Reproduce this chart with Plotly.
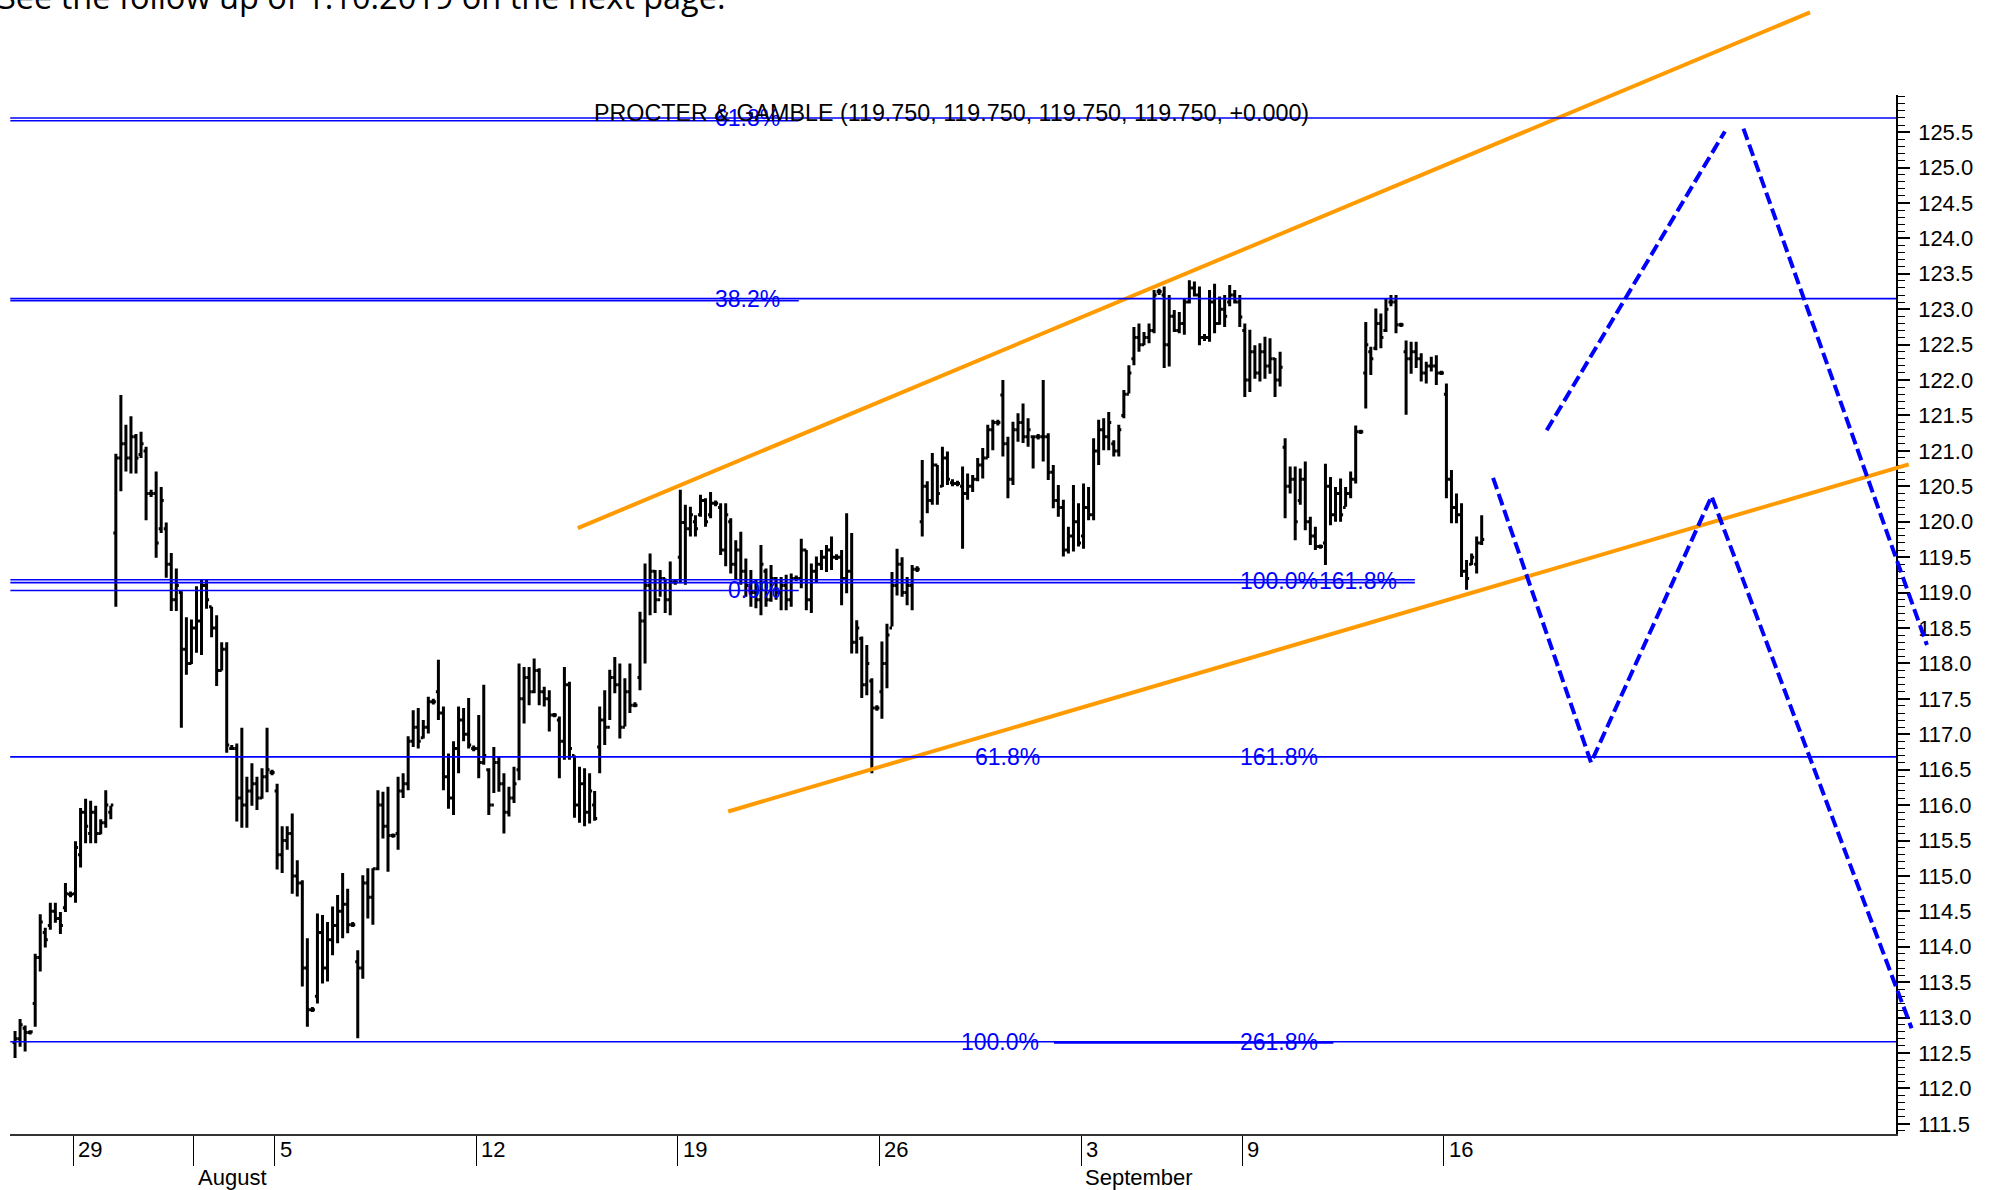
import plotly.graph_objects as go

# ---------------- data ----------------
# trading-day index: 0 = 25 Jul 2019 ... 36 = 16 Sep 2019 (8 bars per day)
day_tick_pos = [2, 5, 7, 12, 17, 22, 27, 31, 36]
day_tick_text = ["29", "", "5", "12", "19", "26", "3", "9", "16"]
month_tick_pos = [5, 27]
month_tick_text = ["August", "September"]

y_tick_text = ["111.5", "112.0", "112.5", "113.0", "113.5", "114.0", "114.5", "115.0",
               "115.5", "116.0", "116.5", "117.0", "117.5", "118.0", "118.5", "119.0",
               "119.5", "120.0", "120.5", "121.0", "121.5", "122.0", "122.5", "123.0",
               "123.5", "124.0", "124.5", "125.0", "125.5"]

opens = [
    112.65, 112.70, 112.85, 112.79,
    113.20, 113.85, 114.20, 114.30, 114.50, 114.40, 114.55, 114.74,
    114.75, 115.30, 115.90, 115.60, 115.90, 115.60, 115.75, 115.90,
    119.84, 120.90, 121.10, 120.90, 121.20, 120.95, 121.00, 120.40,
    120.40, 119.90, 119.90, 119.40, 118.90, 119.00, 118.20, 118.00,
    118.50, 118.60, 119.10, 118.80, 118.50, 117.90, 118.20, 116.80,
    116.80, 116.10, 116.00, 116.20, 116.30, 116.10, 116.40, 116.46,
    116.20, 115.30, 115.50, 115.60, 115.00, 114.90, 113.70, 113.11,
    113.30, 114.20, 113.70, 114.10, 114.30, 114.50, 114.60, 114.31,
    113.79, 113.70, 114.90, 114.70, 115.10, 116.00, 115.70, 115.57,
    115.60, 116.20, 116.30, 116.90, 117.10, 116.95, 117.10, 117.46,
    117.60, 117.30, 116.40, 116.10, 116.80, 117.20, 117.00, 116.80,
    116.80, 116.60, 116.50, 116.00, 116.60, 116.30, 115.90, 116.10,
    116.50, 117.50, 117.80, 117.60, 117.90, 117.60, 117.50, 117.27,
    117.20, 116.90, 117.70, 116.70, 116.00, 116.30, 115.90, 116.00,
    116.82, 117.20, 117.10, 117.80, 117.70, 117.10, 117.60, 117.41,
    117.80, 118.60, 119.10, 119.30, 118.90, 119.20, 118.90, 119.15,
    119.50, 119.99, 119.90, 120.00, 120.10, 120.30, 120.10, 120.26,
    120.20, 119.60, 120.00, 119.40, 119.60, 119.30, 119.10, 119.00,
    118.90, 119.30, 118.90, 119.20, 119.00, 119.10, 118.90, 119.20,
    119.20, 119.60, 118.90, 119.30, 119.40, 119.50, 119.60, 119.50,
    119.50, 119.20, 119.30, 118.30, 118.35, 117.70, 117.75, 117.37,
    117.60, 118.00, 118.50, 119.10, 119.40, 119.00, 119.10, 119.33,
    120.00, 120.50, 120.30, 120.80, 120.50, 120.90, 120.55, 120.54,
    120.50, 120.40, 120.50, 120.60, 120.80, 120.90, 121.30, 121.40,
    121.79, 121.10, 120.60, 121.30, 121.40, 121.20, 121.20, 121.20,
    121.20, 121.20, 120.70, 120.30, 120.20, 119.60, 119.80, 120.00,
    119.80, 120.20, 120.10, 121.00, 121.30, 121.20, 121.10, 121.00,
    121.50, 121.80, 122.30, 122.60, 122.50, 122.60, 122.70, 123.25,
    123.20, 122.50, 122.90, 122.70, 122.80, 123.10, 123.30, 123.20,
    122.60, 122.60, 123.10, 122.80, 123.00, 123.10, 123.20, 123.10,
    122.70, 122.00, 122.40, 122.10, 122.40, 122.20, 122.30, 122.00,
    121.05, 120.50, 120.60, 120.30, 120.60, 120.00, 119.80, 119.65,
    119.70, 120.50, 120.10, 120.40, 120.20, 120.40, 120.60, 121.27,
    122.10, 122.40, 122.45, 122.80, 122.70, 123.10, 123.10, 122.78,
    122.40, 122.30, 122.40, 122.30, 122.10, 122.20, 122.20, 122.10,
    121.80, 120.60, 120.20, 120.10, 119.30, 119.40, 119.40, 119.70,
]
highs = [
    112.81, 112.98, 112.89, 112.82,
    113.90, 114.46, 114.27, 114.62, 114.62, 114.49, 114.90, 114.78,
    115.49, 115.96, 116.09, 116.06, 115.99, 115.80, 116.21, 115.99,
    120.96, 121.79, 121.37, 121.49, 121.24, 121.27, 121.06, 120.45,
    120.71, 120.49, 119.99, 119.56, 119.34, 119.02, 118.65, 118.62,
    119.09, 119.18, 119.18, 118.80, 118.68, 118.30, 118.30, 116.85,
    116.87, 117.09, 116.40, 116.59, 116.40, 116.52, 117.09, 116.50,
    116.30, 115.70, 115.70, 115.88, 115.22, 114.94, 114.12, 113.15,
    114.47, 114.45, 114.35, 114.57, 114.73, 115.04, 114.82, 114.35,
    113.95, 115.01, 115.11, 115.11, 116.21, 116.19, 116.26, 115.60,
    116.40, 116.45, 116.97, 117.34, 117.37, 117.20, 117.53, 117.50,
    118.05, 117.39, 116.73, 116.90, 117.39, 117.37, 117.51, 116.84,
    117.27, 117.70, 116.52, 116.82, 116.68, 116.45, 116.26, 116.54,
    118.00, 117.95, 117.95, 118.07, 117.93, 117.67, 117.62, 117.30,
    117.25, 117.95, 117.74, 116.70, 116.54, 116.52, 116.45, 116.20,
    117.39, 117.62, 117.91, 118.09, 118.00, 117.79, 118.00, 117.45,
    118.73, 119.41, 119.55, 119.32, 119.32, 119.20, 119.44, 119.19,
    120.45, 120.24, 120.21, 120.09, 120.38, 120.33, 120.42, 120.30,
    120.26, 120.26, 120.05, 119.74, 119.86, 119.48, 119.32, 119.18,
    119.67, 119.34, 119.39, 119.22, 119.22, 119.25, 119.27, 119.24,
    119.76, 119.60, 119.41, 119.51, 119.60, 119.67, 119.79, 119.54,
    119.60, 120.12, 119.84, 118.61, 118.38, 118.26, 117.79, 117.41,
    118.31, 118.56, 119.29, 119.62, 119.50, 119.22, 119.39, 119.37,
    120.87, 120.57, 120.97, 120.80, 121.06, 120.99, 120.60, 120.58,
    120.78, 120.68, 120.66, 120.90, 121.04, 121.37, 121.44, 121.44,
    122.00, 121.20, 121.41, 121.53, 121.67, 121.46, 121.20, 121.24,
    122.00, 121.25, 120.80, 120.52, 120.31, 119.93, 120.52, 120.26,
    120.54, 120.49, 121.18, 121.44, 121.46, 121.55, 121.15, 121.37,
    121.86, 122.21, 122.75, 122.80, 122.68, 122.80, 123.27, 123.29,
    123.32, 123.20, 122.99, 122.96, 123.15, 123.41, 123.39, 123.32,
    122.65, 123.27, 123.36, 123.18, 123.20, 123.34, 123.27, 123.20,
    122.80, 122.71, 122.49, 122.52, 122.61, 122.59, 122.31, 122.40,
    121.18, 120.78, 120.78, 120.75, 120.85, 120.07, 119.93, 119.68,
    120.82, 120.63, 120.49, 120.61, 120.49, 120.71, 121.36, 121.30,
    122.82, 122.47, 123.01, 122.94, 123.15, 123.20, 123.20, 122.81,
    122.56, 122.54, 122.54, 122.38, 122.26, 122.33, 122.35, 122.13,
    121.95, 120.73, 120.40, 120.26, 119.46, 119.55, 119.79, 120.09,
]
lows = [
    112.43, 112.59, 112.52, 112.76,
    112.87, 113.65, 113.99, 114.24, 114.34, 114.18, 114.49, 114.70,
    114.62, 115.12, 115.46, 115.46, 115.46, 115.59, 115.68, 115.80,
    118.80, 120.43, 120.71, 120.68, 120.68, 120.90, 120.02, 120.35,
    119.49, 119.84, 119.21, 118.74, 118.74, 117.09, 117.84, 117.99,
    118.15, 118.12, 118.77, 118.37, 117.68, 117.90, 116.74, 116.78,
    115.77, 115.68, 115.68, 115.99, 115.93, 116.09, 116.18, 116.42,
    115.09, 115.04, 115.37, 114.75, 114.71, 113.44, 112.87, 113.08,
    113.20, 113.48, 113.51, 113.88, 114.05, 114.12, 114.19, 114.28,
    112.71, 113.55, 114.40, 114.31, 115.08, 115.53, 115.06, 115.54,
    115.37, 116.10, 116.21, 116.82, 116.80, 116.94, 117.01, 117.42,
    117.20, 116.21, 115.95, 115.86, 116.45, 116.90, 116.80, 116.76,
    116.38, 116.57, 115.86, 116.17, 116.19, 115.60, 115.84, 116.03,
    116.35, 117.15, 117.41, 117.58, 117.41, 117.39, 117.04, 117.24,
    116.38, 116.64, 116.64, 115.82, 115.75, 115.70, 115.74, 115.78,
    116.45, 116.85, 117.20, 117.58, 116.94, 117.11, 117.30, 117.38,
    117.62, 118.00, 118.68, 118.71, 118.94, 118.71, 118.68, 119.11,
    119.13, 119.11, 119.79, 119.79, 120.07, 119.93, 120.05, 120.22,
    119.53, 119.37, 119.27, 119.18, 119.11, 118.94, 118.80, 118.78,
    118.68, 118.80, 118.87, 118.90, 118.75, 118.75, 118.80, 119.16,
    119.06, 118.75, 118.71, 119.15, 119.32, 119.29, 119.32, 119.46,
    118.82, 118.99, 118.14, 118.14, 117.51, 117.55, 116.45, 117.33,
    117.22, 117.65, 118.52, 118.96, 118.94, 118.82, 118.75, 119.29,
    119.79, 120.12, 120.24, 120.24, 120.49, 120.52, 120.50, 120.50,
    119.62, 120.31, 120.42, 120.57, 120.61, 120.90, 121.01, 121.36,
    120.92, 120.33, 120.52, 121.13, 121.11, 121.06, 120.75, 121.16,
    120.85, 120.59, 120.19, 120.07, 119.51, 119.55, 119.58, 119.65,
    119.62, 120.02, 120.02, 120.80, 121.01, 121.01, 120.92, 120.92,
    121.46, 121.81, 122.21, 122.40, 122.49, 122.52, 122.66, 123.20,
    122.17, 122.19, 122.68, 122.66, 122.64, 123.08, 123.18, 122.49,
    122.55, 122.54, 122.66, 122.78, 122.75, 123.04, 123.08, 122.75,
    121.76, 121.83, 122.02, 121.98, 122.02, 122.09, 121.76, 121.91,
    120.05, 120.40, 119.74, 120.24, 119.88, 119.67, 119.60, 119.62,
    119.39, 119.95, 120.00, 120.00, 120.21, 120.33, 120.54, 121.24,
    121.60, 122.07, 122.42, 122.45, 122.68, 123.04, 122.66, 122.75,
    121.51, 122.09, 122.17, 121.98, 121.95, 122.12, 121.93, 122.07,
    120.33, 119.98, 119.98, 119.22, 119.04, 119.39, 119.27, 119.67,
]
closes = [
    112.70, 112.90, 112.79, 112.80,
    113.85, 114.35, 114.10, 114.50, 114.40, 114.30, 114.75, 114.74,
    115.40, 115.90, 115.70, 115.90, 115.60, 115.75, 116.00, 116.00,
    120.90, 121.10, 120.90, 121.20, 120.90, 121.10, 120.40, 120.40,
    119.70, 120.30, 119.40, 118.90, 119.10, 118.20, 118.00, 118.50,
    118.60, 119.10, 118.90, 118.50, 117.90, 118.20, 116.85, 116.80,
    116.10, 116.00, 116.20, 116.30, 116.10, 116.40, 116.50, 116.46,
    115.30, 115.50, 115.60, 115.00, 114.90, 113.70, 113.11, 113.11,
    114.20, 113.70, 114.10, 114.30, 114.50, 114.60, 114.31, 114.31,
    113.70, 114.90, 114.70, 115.10, 116.00, 115.70, 115.57, 115.57,
    116.20, 116.30, 116.90, 117.10, 116.90, 117.10, 117.46, 117.46,
    117.30, 116.40, 116.10, 116.80, 117.20, 117.00, 116.85, 116.80,
    116.60, 116.70, 116.00, 116.60, 116.30, 115.90, 116.10, 116.30,
    117.50, 117.80, 117.60, 117.90, 117.60, 117.50, 117.27, 117.27,
    116.90, 117.70, 116.80, 116.00, 116.30, 115.90, 116.20, 115.81,
    117.20, 117.10, 117.80, 117.70, 117.10, 117.60, 117.41, 117.41,
    118.60, 119.10, 119.30, 118.90, 119.20, 118.90, 119.15, 119.15,
    119.99, 119.90, 120.10, 119.90, 120.30, 120.00, 120.26, 120.26,
    119.60, 120.10, 119.40, 119.60, 119.30, 119.10, 119.00, 118.90,
    119.40, 118.90, 119.20, 119.00, 119.10, 118.90, 119.20, 119.20,
    119.60, 118.90, 119.30, 119.40, 119.50, 119.60, 119.50, 119.50,
    119.20, 119.30, 118.30, 118.50, 117.70, 118.00, 117.37, 117.37,
    118.00, 118.40, 119.10, 119.40, 119.00, 119.10, 119.33, 119.33,
    120.50, 120.30, 120.80, 120.40, 120.90, 120.60, 120.54, 120.54,
    120.40, 120.50, 120.60, 120.80, 120.90, 121.30, 121.40, 121.40,
    121.10, 120.60, 121.30, 121.40, 121.20, 121.30, 121.20, 121.20,
    121.20, 120.70, 120.30, 120.20, 119.60, 119.80, 120.00, 119.70,
    120.20, 120.10, 121.00, 121.30, 121.20, 121.40, 121.00, 121.30,
    121.80, 122.10, 122.60, 122.50, 122.60, 122.70, 123.20, 123.25,
    122.50, 122.90, 122.70, 122.80, 123.10, 123.30, 123.20, 122.60,
    122.60, 123.10, 122.80, 123.00, 122.90, 123.20, 123.10, 122.89,
    122.00, 122.40, 122.10, 122.40, 122.20, 122.30, 122.00, 122.18,
    120.50, 120.60, 120.00, 120.60, 120.00, 119.80, 119.65, 119.65,
    120.50, 120.10, 120.40, 120.10, 120.40, 120.60, 121.27, 121.27,
    122.50, 122.30, 122.80, 122.60, 123.00, 123.10, 122.78, 122.78,
    122.30, 122.40, 122.30, 122.10, 122.20, 122.20, 122.10, 122.10,
    120.60, 120.20, 120.10, 119.30, 119.20, 119.50, 119.70, 119.75,
]
bars_per_day = 8
first_slot = 4  # first bar is the 5th slot of day 0

# Fibonacci levels
fib_full_levels = [125.70, 123.15, 116.68, 112.66]
fib_a_levels = [125.66, 123.12, 119.03]
fib_a_end = 20.0
fib_b_levels = [119.18, 119.14]
fib_b_end = 35.28
fib_bold_level = 112.65
fib_bold_span = [26.33, 33.26]
fib_label_text = ["61.8%", "38.2%", "0.0%", "61.8%", "161.8%", "100.0%", "261.8%", "100.0%", "161.8%"]
fib_label_day = [18.73, 18.73, 18.89, 25.17, 31.9, 24.98, 31.9, 31.9, 33.87]
fib_label_price = [125.70, 123.15, 119.03, 116.68, 116.68, 112.66, 112.66, 119.16, 119.16]

# trend channel (orange)
upper_day = [14.52, 45.08]
upper_price = [119.91, 127.19]
lower_day = [18.25, 47.53]
lower_price = [115.91, 120.81]

# projections (blue dashed)
proj_w_day = [37.22, 39.65, 42.64, 47.60]
proj_w_price = [120.62, 116.60, 120.36, 112.85]
proj_up_day = [38.55, 42.97]
proj_up_price = [121.29, 125.51]
proj_down_day = [43.43, 47.98]
proj_down_price = [125.55, 118.26]

title_text = "PROCTER & GAMBLE (119.750, 119.750, 119.750, 119.750, +0.000)"
top_note = "See the follow up of 1.10.2019 on the next page."

# ---------------- layout geometry ----------------
W, H = 1991, 1190
plot_left, plot_right, plot_top, plot_bottom = 10.2, 1896.0, 95.2, 1134.0
row_sep = 1164.0
x_range = [0.4425, 47.213]
y_range = [111.357, 126.021]

dom_x = [plot_left / W, plot_right / W]
dom_y = [1 - plot_bottom / H, 1 - plot_top / H]

def extend(rng, dom):
    span = (rng[1] - rng[0]) / (dom[1] - dom[0])
    return [rng[0] - dom[0] * span, rng[1] + (1 - dom[1]) * span]

x2_range = extend(x_range, dom_x)
y2_range = extend(y_range, dom_y)

FONT = "Liberation Sans, Arial, sans-serif"
BLUE = "#0000FF"
ORANGE = "#FF9B00"

x_bar = [(first_slot + i + 0.5) / bars_per_day for i in range(len(opens))]

fig = go.Figure()
fig.add_trace(go.Ohlc(
    x=x_bar, open=opens, high=highs, low=lows, close=closes,
    increasing=dict(line=dict(color="black", width=3)),
    decreasing=dict(line=dict(color="black", width=3)),
    tickwidth=0.5, showlegend=False, hoverinfo="skip",
    xaxis="x", yaxis="y",
))

line_sets = [
    (upper_day, upper_price, dict(color=ORANGE, width=4)),
    (lower_day, lower_price, dict(color=ORANGE, width=4)),
    (proj_w_day, proj_w_price, dict(color=BLUE, width=4, dash="12px,5px")),
    (proj_up_day, proj_up_price, dict(color=BLUE, width=4, dash="12px,5px")),
    (proj_down_day, proj_down_price, dict(color=BLUE, width=4, dash="12px,5px")),
]
for xs, ys, ln in line_sets:
    fig.add_trace(go.Scatter(x=xs, y=ys, mode="lines", line=ln, showlegend=False,
                             hoverinfo="skip", xaxis="x2", yaxis="y2"))

shapes = []
for lv in fib_full_levels:
    shapes.append(dict(type="line", xref="x domain", x0=0, x1=1, yref="y", y0=lv, y1=lv,
                       line=dict(color=BLUE, width=1.6)))
for lv in fib_a_levels:
    shapes.append(dict(type="line", xref="x", x0=x_range[0], x1=fib_a_end, yref="y", y0=lv, y1=lv,
                       line=dict(color=BLUE, width=1.6)))
for lv in fib_b_levels:
    shapes.append(dict(type="line", xref="x", x0=x_range[0], x1=fib_b_end, yref="y", y0=lv, y1=lv,
                       line=dict(color=BLUE, width=1.6)))
shapes.append(dict(type="line", xref="x", x0=fib_bold_span[0], x1=fib_bold_span[1], yref="y",
                   y0=fib_bold_level, y1=fib_bold_level, line=dict(color=BLUE, width=2.6)))

annotations = []
for t, d, p in zip(fib_label_text, fib_label_day, fib_label_price):
    annotations.append(dict(text=t, x=d, y=p, xref="x", yref="y", showarrow=False,
                            xanchor="center", yanchor="middle",
                            font=dict(family=FONT, size=23, color=BLUE)))
for d, t in zip(day_tick_pos, day_tick_text):
    if t:
        annotations.append(dict(text=t, x=d, y=1 - (plot_bottom + row_sep) / 2 / H,
                                xref="x", yref="paper", showarrow=False, xanchor="left",
                                yanchor="middle", xshift=3,
                                font=dict(family=FONT, size=22, color="black")))
for d, t in zip(month_tick_pos, month_tick_text):
    annotations.append(dict(text=t, x=d, y=1 - (row_sep + H) / 2 / H,
                            xref="x", yref="paper", showarrow=False, xanchor="left",
                            yanchor="middle", xshift=2,
                            font=dict(family=FONT, size=22, color="black")))
annotations.append(dict(text=title_text, x=951.7 / W, y=1 - 113 / H, xref="paper", yref="paper",
                        showarrow=False, xanchor="center", yanchor="middle",
                        font=dict(family=FONT, size=23.3, color="black")))
annotations.append(dict(text=top_note, x=0, y=1 - 20.5 / H, xref="paper", yref="paper",
                        showarrow=False, xanchor="left", yanchor="bottom", xshift=-4,
                        font=dict(family="Open Sans, sans-serif", size=32.5, color="black")))

fig.update_layout(
    template="none",
    width=W, height=H, autosize=False,
    margin=dict(l=0, r=0, t=0, b=0, pad=0),
    paper_bgcolor="white", plot_bgcolor="rgba(0,0,0,0)",
    font=dict(family=FONT, size=22, color="black"),
    showlegend=False,
    shapes=shapes,
    annotations=annotations,
    xaxis=dict(domain=dom_x, range=x_range, anchor="y", showgrid=False, zeroline=False,
               showline=True, linecolor="#333333", linewidth=1.5,
               tickmode="array", tickvals=day_tick_pos, ticks="outside",
               ticklen=row_sep - plot_bottom, tickwidth=1.2, tickcolor="black",
               showticklabels=False, rangeslider=dict(visible=False), fixedrange=True,
               automargin=False),
    xaxis3=dict(overlaying="x", anchor="free", position=1 - row_sep / H, side="bottom",
                range=x_range, showgrid=False, zeroline=False,
                showline=True, linecolor="#555555", linewidth=3,
                tickmode="array", tickvals=month_tick_pos, ticks="outside",
                ticklen=H - row_sep, tickwidth=1.2, tickcolor="black",
                showticklabels=False, automargin=False),
    yaxis=dict(domain=dom_y, range=y_range, anchor="x", side="right", showgrid=False,
               zeroline=False, showline=True, linecolor="black", linewidth=1.5,
               tickmode="array", tickvals=[float(s) for s in y_tick_text], ticktext=y_tick_text,
               ticks="outside", ticklen=12, tickwidth=1.5, tickcolor="black",
               ticklabelstandoff=4,
               tickfont=dict(family=FONT, size=22, color="black"),
               minor=dict(tickmode="linear", tick0=0, dtick=0.1, ticks="outside",
                          ticklen=7, tickwidth=1.2, tickcolor="black"),
               automargin=False, fixedrange=True),
    xaxis2=dict(domain=[0, 1], range=x2_range, anchor="y2", visible=False, fixedrange=True),
    yaxis2=dict(domain=[0, 1], range=y2_range, anchor="x2", visible=False, fixedrange=True),
)

fig.write_html("out.html", config={"displayModeBar": False},
               post_script="document.body.style.margin='0';document.body.style.overflow='hidden';")
